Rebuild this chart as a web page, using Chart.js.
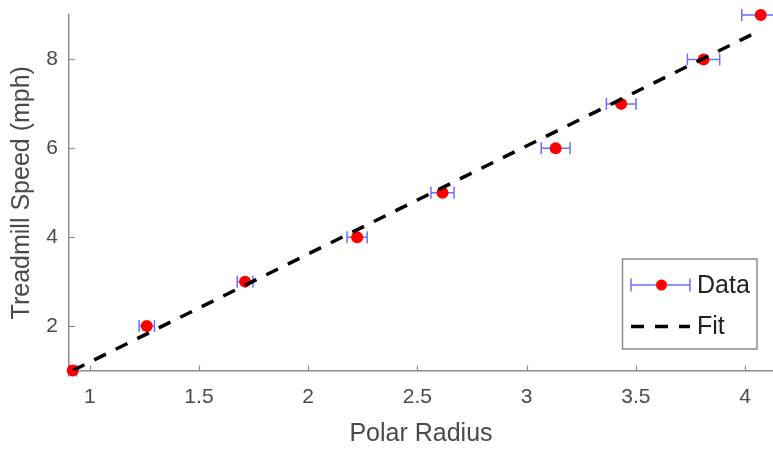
<!DOCTYPE html>
<html>
<head>
<meta charset="utf-8">
<title>Treadmill Speed vs Polar Radius</title>
<script src="https://cdn.jsdelivr.net/npm/chart.js@4.4.1/dist/chart.umd.min.js"></script>
<style>
  html, body { margin: 0; padding: 0; background: #fff; }
  #chart { display: block; }
</style>
</head>
<body>
<canvas id="chart" width="773" height="453"></canvas>
<script>
// measured points: polar radius vs treadmill speed, with radius error
const speed = [1, 2, 3, 4, 5, 6, 7, 8, 9];
const radius = [0.922, 1.261, 1.711, 2.224, 2.615, 3.133, 3.433, 3.810, 4.072];
const radiusErr = [0.018, 0.035, 0.036, 0.046, 0.053, 0.066, 0.068, 0.074, 0.087];

// linear fit, drawn over the data range
const fitRadius = [0.922, 4.072];
const fitSpeed = [1.0, 8.66];

const xTicks = [1, 1.5, 2, 2.5, 3, 3.5, 4];
const yTicks = [2, 4, 6, 8];

const axisGray = '#8c8c8c';
const textGray = '#4a4a4a';
const barBlue = '#6f6fff';
const fontFamily = '"Liberation Sans", Arial, Helvetica, sans-serif';

const points = radius.map((r, i) => ({ x: r, y: speed[i] }));
const fitLine = fitRadius.map((r, i) => ({ x: r, y: fitSpeed[i] }));

// no extra room for half-labels at the ends, the plot box is fixed
function noEdgePadding(scale) {
    scale.paddingTop = 0;
    scale.paddingBottom = 0;
    scale.paddingLeft = 0;
    scale.paddingRight = 0;
}

// horizontal error bars, under the markers and the fit line
const errorBars = {
    id: 'errorBars',
    beforeDatasetsDraw(chart) {
        const ctx = chart.ctx;
        const xs = chart.scales.x;
        const ys = chart.scales.y;
        ctx.save();
        ctx.strokeStyle = barBlue;
        ctx.lineWidth = 1.5;
        for (let i = 0; i < radius.length; i++) {
            const y = ys.getPixelForValue(speed[i]);
            const x0 = xs.getPixelForValue(radius[i] - radiusErr[i]);
            const x1 = xs.getPixelForValue(radius[i] + radiusErr[i]);
            ctx.beginPath();
            ctx.moveTo(x0, y);
            ctx.lineTo(x1, y);
            ctx.moveTo(x0, y - 6);
            ctx.lineTo(x0, y + 6);
            ctx.moveTo(x1, y - 6);
            ctx.lineTo(x1, y + 6);
            ctx.stroke();
        }
        ctx.restore();
    }
};

// tick marks pointing into the plot
const innerTicks = {
    id: 'innerTicks',
    beforeDatasetsDraw(chart) {
        const ctx = chart.ctx;
        const area = chart.chartArea;
        const xs = chart.scales.x;
        const ys = chart.scales.y;
        ctx.save();
        ctx.strokeStyle = axisGray;
        ctx.lineWidth = 1.2;
        ctx.beginPath();
        xTicks.forEach(v => {
            const x = Math.round(xs.getPixelForValue(v)) + 0.5;
            ctx.moveTo(x, area.bottom);
            ctx.lineTo(x, area.bottom - 5);
        });
        yTicks.forEach(v => {
            const y = Math.round(ys.getPixelForValue(v)) + 0.5;
            ctx.moveTo(area.left, y);
            ctx.lineTo(area.left + 6, y);
        });
        ctx.stroke();
        ctx.restore();
    }
};

// boxed legend in the lower right
const boxLegend = {
    id: 'boxLegend',
    afterDraw(chart) {
        const ctx = chart.ctx;
        const left = 622.5, top = 259, w = 134.5, h = 90;
        ctx.save();
        ctx.fillStyle = '#fff';
        ctx.fillRect(left, top, w, h);
        ctx.strokeStyle = axisGray;
        ctx.lineWidth = 1.5;
        ctx.strokeRect(left, top, w, h);

        // Data entry
        const y1 = 285;
        ctx.strokeStyle = barBlue;
        ctx.lineWidth = 1.5;
        ctx.beginPath();
        ctx.moveTo(631, y1);
        ctx.lineTo(690, y1);
        ctx.moveTo(631, y1 - 6.5);
        ctx.lineTo(631, y1 + 6.5);
        ctx.moveTo(690, y1 - 6.5);
        ctx.lineTo(690, y1 + 6.5);
        ctx.stroke();
        ctx.fillStyle = '#ff0000';
        ctx.beginPath();
        ctx.arc(661.5, y1, 5.5, 0, Math.PI * 2);
        ctx.fill();

        // Fit entry
        const y2 = 326.5;
        ctx.strokeStyle = '#000';
        ctx.lineWidth = 3.5;
        ctx.setLineDash([13, 11]);
        ctx.beginPath();
        ctx.moveTo(631, y2);
        ctx.lineTo(690, y2);
        ctx.stroke();
        ctx.setLineDash([]);

        ctx.fillStyle = '#222';
        ctx.font = '25px ' + fontFamily;
        ctx.textBaseline = 'middle';
        ctx.textAlign = 'left';
        ctx.fillText('Data', 697, y1 + 1);
        ctx.fillText('Fit', 697, y2 + 1);
        ctx.restore();
    }
};

new Chart(document.getElementById('chart'), {
    type: 'scatter',
    data: {
        datasets: [
            {
                label: 'Fit',
                type: 'line',
                data: fitLine,
                borderColor: '#000',
                borderWidth: 3.5,
                borderDash: [13, 11],
                pointRadius: 0,
                fill: false,
                order: 0
            },
            {
                label: 'Data',
                data: points,
                backgroundColor: '#ff0000',
                borderColor: '#ff0000',
                pointRadius: 6,
                borderWidth: 0,
                clip: false,
                order: 1
            }
        ]
    },
    options: {
        responsive: false,
        animation: false,
        devicePixelRatio: 1,
        layout: {
            autoPadding: false,
            padding: { top: 15, right: 0, bottom: 0, left: 0 }
        },
        plugins: {
            legend: { display: false },
            tooltip: { enabled: false }
        },
        scales: {
            x: {
                type: 'linear',
                min: 0.905,
                max: 4.128,
                afterFit(scale) {
                    scale.height = 82.5;
                    noEdgePadding(scale);
                },
                afterBuildTicks(scale) { scale.ticks = xTicks.map(v => ({ value: v })); },
                grid: { display: false, drawTicks: false },
                border: { display: true, color: axisGray, width: 1.5 },
                ticks: {
                    padding: 14,
                    color: textGray,
                    font: { family: fontFamily, size: 21 },
                    maxRotation: 0,
                    callback: v => String(v)
                },
                title: {
                    display: true,
                    text: 'Polar Radius',
                    color: textGray,
                    font: { family: fontFamily, size: 25 },
                    padding: { top: 0, bottom: 4 }
                }
            },
            y: {
                type: 'linear',
                min: 1,
                max: 9,
                afterFit(scale) {
                    scale.width = 69;
                    noEdgePadding(scale);
                },
                afterBuildTicks(scale) { scale.ticks = yTicks.map(v => ({ value: v })); },
                grid: { display: false, drawTicks: false },
                border: { display: true, color: axisGray, width: 1.5 },
                ticks: {
                    padding: 11,
                    color: textGray,
                    font: { family: fontFamily, size: 21 },
                    callback: v => String(v)
                },
                title: {
                    display: true,
                    text: 'Treadmill Speed (mph)',
                    color: textGray,
                    font: { family: fontFamily, size: 25 },
                    padding: { top: 7, bottom: 0 }
                }
            }
        }
    },
    plugins: [errorBars, innerTicks, boxLegend]
});
</script>
</body>
</html>
